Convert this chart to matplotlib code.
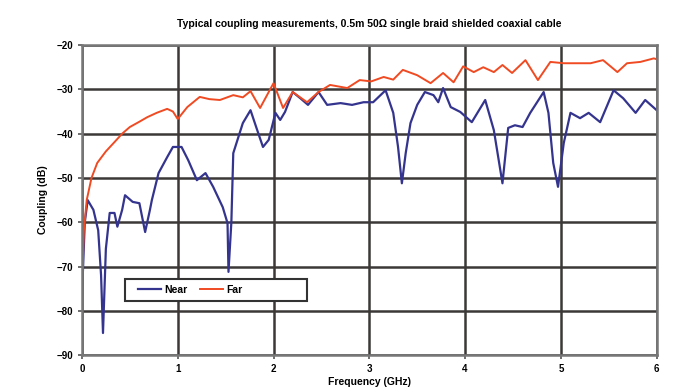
import matplotlib.pyplot as plt
from matplotlib.patches import Rectangle

# ==== data ====
far_f = [0, 0.02, 0.05, 0.1, 0.16, 0.25, 0.34, 0.42, 0.5, 0.6, 0.68, 0.78, 0.89, 0.95,
         1.0, 1.1, 1.23, 1.33, 1.44, 1.58, 1.68, 1.76, 1.86, 2.0, 2.1, 2.2, 2.35, 2.47,
         2.59, 2.77, 2.9, 3.02, 3.15, 3.25, 3.35, 3.5, 3.64, 3.77, 3.88, 3.98, 4.09, 4.19,
         4.3, 4.39, 4.49, 4.63, 4.76, 4.89, 5.03, 5.17, 5.31, 5.44, 5.59, 5.69, 5.83, 5.97, 6.0]
far_db = [-75, -62, -55, -50, -46.6, -44, -41.9, -40, -38.5, -37.3, -36.3, -35.3, -34.4, -35,
          -36.7, -34, -31.7, -32.2, -32.4, -31.3, -31.8, -30.4, -34.2, -28.6, -34.2, -30.6, -32.9, -30.6,
          -29, -29.7, -27.9, -28.2, -27.2, -27.8, -25.6, -26.8, -28.6, -26.3, -28.4, -24.8, -26.1, -25,
          -26.1, -24.5, -26.3, -23.4, -27.9, -23.8, -24.1, -24.1, -24.1, -23.4, -26.1, -24.1, -23.8, -23.0, -23.2]

near_f = [0, 0.03, 0.06, 0.12, 0.17, 0.2, 0.22, 0.25, 0.29, 0.34, 0.37, 0.42, 0.45, 0.53, 0.6,
          0.66, 0.71, 0.73, 0.8, 0.89, 0.95, 1.04, 1.11, 1.2, 1.29, 1.37, 1.47, 1.52, 1.53, 1.56,
          1.58, 1.68, 1.76, 1.83, 1.89, 1.95, 2.02, 2.07, 2.12, 2.2, 2.28, 2.36, 2.47, 2.56, 2.7,
          2.82, 2.94, 3.04, 3.17, 3.25, 3.3, 3.34, 3.38, 3.43, 3.5, 3.58, 3.67, 3.72, 3.77, 3.85,
          3.95, 4.07, 4.21, 4.3, 4.39, 4.45, 4.52, 4.6, 4.68, 4.82, 4.87, 4.92, 4.97, 5.03, 5.1,
          5.2, 5.29, 5.41, 5.55, 5.65, 5.78, 5.88, 6.0]
near_db = [-77, -60, -55, -57.2, -61.8, -72, -85, -66, -57.9, -57.9, -61, -57.2, -53.9, -55.4, -55.7,
           -62.2, -57.2, -55, -48.9, -45.3, -43, -43, -46, -50.5, -48.9, -52, -56.6, -60.2, -71.2, -60,
           -44.4, -37.6, -34.7, -39.2, -43, -41.4, -35.3, -36.9, -35.1, -30.6, -32, -33.5, -30.6, -33.5, -33.1,
           -33.5, -32.9, -32.9, -30.2, -35.3, -43, -51.2, -44.4, -37.6, -33.5, -30.6, -31.3, -32.9, -29.7, -34,
           -35.1, -37.4, -32.4, -39.2, -51.2, -38.7, -38.1, -38.5, -35.3, -30.6, -35.3, -46.6, -52, -42.1, -35.3,
           -36.5, -35.3, -37.4, -30.2, -32, -35.3, -32.4, -34.7]

x_ticks = [0, 1, 2, 3, 4, 5, 6]
y_ticks = [-90, -80, -70, -60, -50, -40, -30, -20]

# ==== plot ====
plt.rcParams['font.family'] = ['Liberation Sans', 'DejaVu Sans']
fig = plt.figure(figsize=(6.77, 3.92), dpi=100)
ax = fig.add_axes([0.121, 0.094, 0.849, 0.791])

ax.plot(near_f, near_db, color='#34348f', linewidth=1.6, label='Near')
ax.plot(far_f, far_db, color='#f04a22', linewidth=1.4, label='Far')

ax.set_xlim(0, 6)
ax.set_ylim(-90, -20)
ax.set_xticks(x_ticks)
ax.set_yticks(y_ticks)
ax.grid(True, color='#3c3838', linewidth=1.8)
ax.set_axisbelow(True)
for s in ax.spines.values():
    s.set_color('#777777')
    s.set_linewidth(1.8)
ax.tick_params(labelsize=7, length=3, width=1.2, color='#555555')
for lab in ax.get_xticklabels() + ax.get_yticklabels():
    lab.set_fontweight('bold')

ax.set_title('Typical coupling measurements, 0.5m 50\u03a9 single braid shielded coaxial cable',
             fontsize=7.5, fontweight='bold', pad=13)
ax.set_xlabel('Frequency (GHz)', fontsize=7.5, fontweight='bold', labelpad=2)
ax.set_ylabel('Coupling (dB)', fontsize=7.5, fontweight='bold', labelpad=6)

# legend box: white frame drawn separately, entries sit left inside it
box = Rectangle((0.075, 0.174), 0.317, 0.071, transform=ax.transAxes,
                facecolor='white', edgecolor='#333333', linewidth=1.5, zorder=4)
ax.add_patch(box)
leg = ax.legend(loc='center left', bbox_to_anchor=(0.098, 0.21), ncol=2, fontsize=7.5,
                frameon=False, borderaxespad=0, borderpad=0, handlelength=2.2,
                handletextpad=0.3, columnspacing=1.2)
leg.set_zorder(5)
for t in leg.get_texts():
    t.set_fontweight('bold')

fig.savefig('out.png', dpi=100)
